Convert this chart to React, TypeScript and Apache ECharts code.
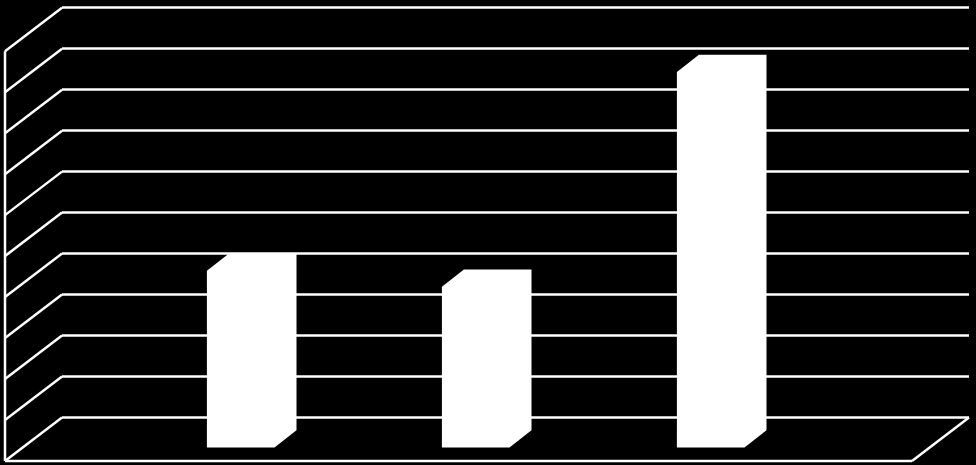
import React, { useEffect, useRef } from "react";
import * as echarts from "echarts";

const categories = ["1", "2", "3"];
const barValues = [4.31, 3.92, 9.16];
const axisTicks = [0, 1, 2, 3, 4, 5, 6, 7, 8, 9, 10];

const WALL = { left: 62, right: 969, top: 7.7, bottom: 417.5 };
const WALL_DX = 57;
const WALL_DY = 43.5;
const BAR_DX = 22;
const BAR_DY = 17.2;
const BAR_SHIFT_Y = 12.7;
const BAR_WIDTH = 67.6;
const LINE_WIDTH = 2.5;
const LINE = { stroke: "#ffffff", lineWidth: LINE_WIDTH, fill: "none" };

export default function App() {
  const ref = useRef<HTMLDivElement>(null);
  useEffect(() => {
    const chart = echarts.init(ref.current!, null, { renderer: "svg" });
    const yAxisBase = { type: "value", min: 0, max: 10, interval: 1, axisLabel: { show: false }, axisTick: { show: false }, axisLine: { show: false } };
    chart.setOption({
      animation: false,
      backgroundColor: "#000000",
      grid: [
        { left: WALL.left, top: WALL.top, width: WALL.right - WALL.left, height: WALL.bottom - WALL.top },
        { left: 145.2, top: WALL.top, width: 705, height: WALL.bottom - WALL.top },
      ],
      xAxis: [
        { type: "category", gridIndex: 0, data: categories, show: false },
        { type: "category", gridIndex: 1, data: categories, show: false },
      ],
      yAxis: [
        { ...yAxisBase, gridIndex: 0, splitLine: { show: true, lineStyle: { color: "#ffffff", width: LINE_WIDTH } } },
        { ...yAxisBase, gridIndex: 1, splitLine: { show: false } },
      ],
      series: [
        {
          type: "custom",
          name: "walls",
          xAxisIndex: 0,
          yAxisIndex: 0,
          silent: true,
          z: 2,
          data: axisTicks,
          renderItem: (_params: any, api: any) => {
            const v = api.value(0);
            const [, y] = api.coord([0, v]);
            const x = WALL.left;
            const children: any[] = [
              { type: "line", shape: { x1: x, y1: y, x2: x - WALL_DX, y2: y + WALL_DY }, style: LINE },
            ];
            if (v === 0) {
              const fx = x - WALL_DX;
              const fy = y + WALL_DY;
              const rx = WALL.right;
              const [, topY] = api.coord([0, 10]);
              children.push(
                { type: "line", shape: { x1: fx, y1: fy, x2: rx - WALL_DX, y2: fy }, style: LINE },
                { type: "line", shape: { x1: rx - WALL_DX, y1: fy, x2: rx, y2: y }, style: LINE },
                { type: "line", shape: { x1: fx, y1: fy, x2: fx, y2: topY + WALL_DY }, style: LINE },
              );
            }
            return { type: "group", children };
          },
          encode: { y: 0 },
        },
        {
          type: "custom",
          name: "bars",
          xAxisIndex: 1,
          yAxisIndex: 1,
          silent: true,
          z: 3,
          data: barValues.map((v, i) => [i, v]),
          encode: { x: 0, y: 1 },
          renderItem: (_params: any, api: any) => {
            const [xc, top0] = api.coord([api.value(0), api.value(1)]);
            const [, base0] = api.coord([api.value(0), 0]);
            const top = top0 + BAR_SHIFT_Y;
            const base = base0 + BAR_SHIFT_Y;
            const l = xc - BAR_WIDTH / 2;
            const r = xc + BAR_WIDTH / 2;
            return {
              type: "polygon",
              shape: {
                points: [
                  [l - BAR_DX, base + BAR_DY],
                  [r - BAR_DX, base + BAR_DY],
                  [r, base],
                  [r, top],
                  [l, top],
                  [l - BAR_DX, top + BAR_DY],
                ],
              },
              style: { fill: "#ffffff" },
            };
          },
        },
      ],
    });
    return () => chart.dispose();
  }, []);
  return <div ref={ref} style={{ position: "absolute", left: 0, top: 0, width: 976, height: 465 }} />;
}
